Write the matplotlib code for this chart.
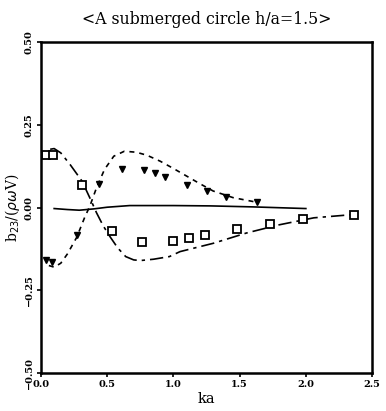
import matplotlib.pyplot as plt
import numpy as np

# experimental points
ka_sq = [0.04, 0.09, 0.31, 0.535, 0.765, 1.0, 1.12, 1.24, 1.48, 1.73, 1.98, 2.36]
b_sq = [0.160, 0.160, 0.068, -0.070, -0.105, -0.100, -0.092, -0.082, -0.064, -0.049, -0.034, -0.021]

ka_tri = [0.042, 0.083, 0.27, 0.44, 0.61, 0.78, 0.86, 0.94, 1.10, 1.25, 1.40, 1.63]
b_tri = [-0.158, -0.164, -0.082, 0.072, 0.116, 0.113, 0.103, 0.092, 0.067, 0.050, 0.033, 0.017]

# computed curves
ka_dash = [0.06, 0.10, 0.15, 0.20, 0.27, 0.33, 0.37, 0.42, 0.48, 0.55, 0.63, 0.72, 0.80, 0.90, 1.00, 1.10, 1.20, 1.30, 1.45, 1.63]
b_dash = [-0.175, -0.180, -0.168, -0.140, -0.090, -0.030, 0.005, 0.060, 0.115, 0.155, 0.170, 0.167, 0.158, 0.140, 0.118, 0.095, 0.072, 0.050, 0.030, 0.016]

ka_dd = [0.07, 0.10, 0.15, 0.22, 0.31, 0.38, 0.42, 0.47, 0.52, 0.58, 0.64, 0.70, 0.75, 0.85, 0.97, 1.05, 1.30, 1.55, 1.80, 2.06, 2.36]
b_dd = [0.176, 0.178, 0.165, 0.130, 0.080, 0.020, -0.016, -0.055, -0.087, -0.122, -0.148, -0.158, -0.160, -0.156, -0.148, -0.133, -0.108, -0.077, -0.052, -0.031, -0.021]

ka_sol = [0.10, 0.20, 0.29, 0.40, 0.50, 0.67, 1.00, 1.28, 1.60, 2.00]
b_sol = [-0.003, -0.006, -0.008, -0.004, 0.001, 0.006, 0.006, 0.005, 0.002, -0.003]

plt.rcParams['font.family'] = ['DejaVu Serif']

fig = plt.figure(figsize=(3.86, 4.11), dpi=100)
ax = fig.add_axes([0.106, 0.092, 0.858, 0.806])

ax.plot(ka_dash, b_dash, color='black', lw=1.2, linestyle=(0, (3, 3)))
ax.plot(ka_dd, b_dd, color='black', lw=1.2, linestyle=(0, (8, 3, 2, 3)))
ax.plot(ka_sol, b_sol, color='black', lw=1.2)
ax.plot(ka_sq, b_sq, 's', ms=5.5, mfc='white', mec='black', mew=1.3)
ax.plot(ka_tri, b_tri, 'v', ms=5, mfc='black', mec='black')

ax.set_xlim(0, 2.5)
ax.set_ylim(-0.5, 0.5)
ax.set_xticks([0.0, 0.5, 1.0, 1.5, 2.0, 2.5])
ax.set_xticklabels(['0.0', '0.5', '1.0', '1.5', '2.0', '2.5'], fontsize=7, fontweight='bold')
ax.set_yticks([-0.5, -0.25, 0.0, 0.25, 0.5])
ax.set_yticklabels(['\u22120.50', '\u22120.25', '0.00', '0.25', '0.50'], fontsize=7,
                   fontweight='bold', rotation=90, va='center')
ax.tick_params(direction='out', length=3, width=1.2, pad=2)
for s in ax.spines.values():
    s.set_linewidth(1.8)

ax.set_xlabel('ka', fontsize=10.5, labelpad=2)
ax.set_ylabel(r'b$_{23}$/($\rho\omega$V)', fontsize=10, labelpad=2)
ax.set_title('<A submerged circle h/a=1.5>', fontsize=11.3, pad=13)

fig.savefig('out.png', dpi=100)
